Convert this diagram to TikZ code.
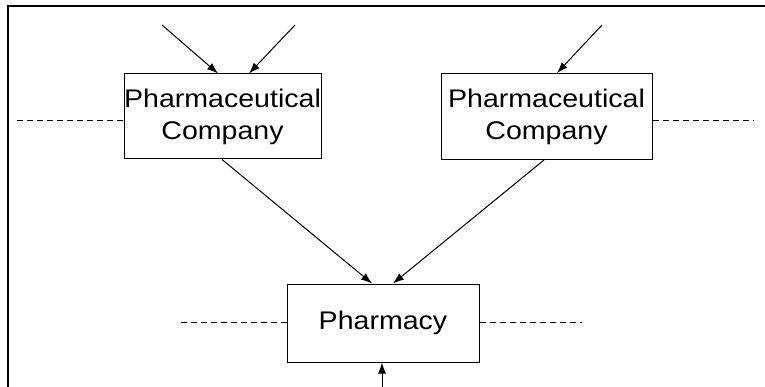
\documentclass[tikz,border=0pt]{standalone}
\usepackage{fontspec}
\setmainfont{Liberation Sans}
\newfontfamily\boxfont{Liberation Sans}[FakeStretch=1.12]
\usetikzlibrary{arrows.meta}

\tikzset{
    firm/.style={draw, line width=1pt, align=center, inner sep=0pt,
        font=\boxfont\fontsize{25.5}{32}\selectfont},
    flow/.style={-{Latex[length=11pt,width=8pt]}, line width=1pt},
    link/.style={line width=1pt, dash pattern=on 6pt off 4pt}
}

\begin{document}
\begin{tikzpicture}[x=1pt,y=-1pt]
    \useasboundingbox (0,0) rectangle (765,387);
    % frame
    \draw[line width=1.2pt] (8,387) -- (8,6) -- (765,6);
    % companies and pharmacy
    \node[firm, minimum width=197pt, minimum height=85pt] (pcA) at (222.5,116.5) {Pharmaceutical\\Company};
    \node[firm, minimum width=211pt, minimum height=86pt] (pcB) at (546.5,116.5) {Pharmaceutical\\Company};
    \node[firm, minimum width=192pt, minimum height=78pt] (pharmacy) at (383,323) {Pharmacy};
    % incoming supply
    \coordinate (inA) at (162,25);
    \coordinate (inB) at (295,25);
    \coordinate (inC) at (602,25);
    \coordinate (inD) at (382,387);
    \draw[flow] (inA) -- ([xshift=-4.5pt]pcA.north);
    \draw[flow] (inB) -- ([xshift=26.5pt]pcA.north);
    \draw[flow] (inC) -- ([xshift=10.5pt]pcB.north);
    \draw[flow] (inD) -- ([xshift=-1pt]pharmacy.south);
    % deliveries to the pharmacy
    \draw[flow] ([xshift=-0.5pt]pcA.south) -- ([xshift=-11pt]pharmacy.north);
    \draw[flow] ([xshift=-2.5pt]pcB.south) -- ([xshift=10pt]pharmacy.north);
    % dashed links
    \coordinate (lnA) at (17,121);
    \coordinate (lnB) at (754,121);
    \coordinate (lnC) at (181,322);
    \coordinate (lnD) at (582,322);
    \draw[link] (lnA) -- (lnA -| pcA.west);
    \draw[link] (lnB -| pcB.east) -- (lnB);
    \draw[link] (lnC) -- (lnC -| pharmacy.west);
    \draw[link] (lnD -| pharmacy.east) -- (lnD);
\end{tikzpicture}
\end{document}
